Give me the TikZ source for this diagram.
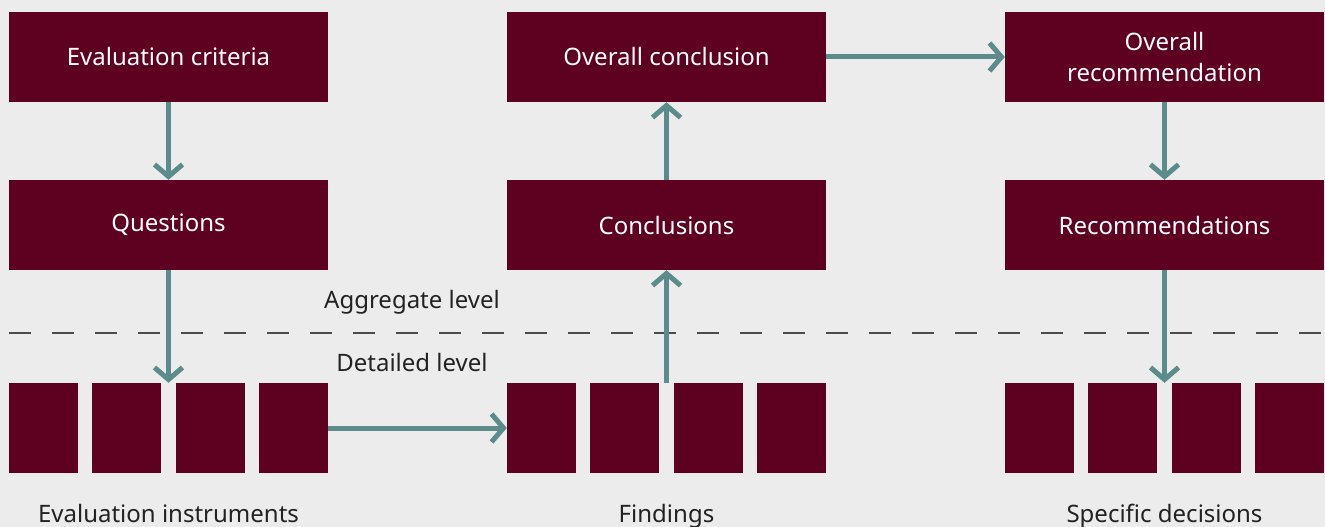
\documentclass[tikz,border=0pt]{standalone}
\usepackage{fontspec}
\setmainfont{Noto Sans}
\usepackage{tikz}
\usepackage{xcolor}
\usetikzlibrary{arrows.meta}
\definecolor{wine}{HTML}{5E0020}
\definecolor{teal-line}{HTML}{5B8C8B}
\definecolor{paper}{HTML}{ECECEC}
\definecolor{ink}{HTML}{222222}
\tikzset{
    dark-box/.style = {fill=wine, text=white, rectangle, inner sep=0pt, minimum width=319pt, minimum height=90pt, align=center, font=\fontsize{24}{31}\selectfont},
    small-box/.style = {fill=wine, rectangle, inner sep=0pt, minimum width=69pt, minimum height=90pt},
    flow-arrow/.style = {draw=teal-line, line width=5pt, -{Straight Barb[length=12pt, width=28pt]}},
    level-text/.style = {text=ink, inner sep=0pt, font=\fontsize{24}{28}\selectfont},
    level-line/.style = {draw=black!70, line width=2pt, dash pattern=on 22pt off 21pt},
}

\begin{document}
\begin{tikzpicture}[x=1pt, y=-1pt]
\fill[paper] (0,0) rectangle (1325,527);
\useasboundingbox (0,0) rectangle (1325,527);

% aggregate level
\node[dark-box] (criteria) at (168.5,57) {Evaluation criteria};
\node[dark-box] (questions) at (168.5,225) {Questions};
\node[dark-box] (overall-concl) at (666.5,57) {Overall conclusion};
\node[dark-box] (conclusions) at (666.5,225) {Conclusions};
\node[dark-box] (overall-rec) at (1164.5,57) {Overall\\recommendation};
\node[dark-box] (recommendations) at (1164.5,225) {Recommendations};

% detailed level
\foreach \i in {1,...,4} {
    \node[small-box] (instr-\i) at ({43.5+(\i-1)*83.33},428) {};
    \node[small-box] (find-\i) at ({541.5+(\i-1)*83.33},428) {};
    \node[small-box] (dec-\i) at ({1039.5+(\i-1)*83.33},428) {};
}

\draw[level-line] (9,333) -- (1325,333);
\node[level-text] (aggregate) at (412,302) {Aggregate level};
\node[level-text] (detailed) at (412,362) {Detailed level};

\node[level-text, anchor=base] (instr-label) at (168.5,522) {Evaluation instruments};
\node[level-text, anchor=base] (find-label) at (666.5,522) {Findings};
\node[level-text, anchor=base] (dec-label) at (1164.5,522) {Specific decisions};

% flows
\draw[flow-arrow] (criteria.south) -- (questions.north);
\draw[flow-arrow] (questions.south) -- (questions |- instr-1.north);
\draw[flow-arrow] (instr-4.east) -- (find-1.west);
\draw[flow-arrow] (conclusions |- find-1.north) -- (conclusions.south);
\draw[flow-arrow] (conclusions.north) -- (overall-concl.south);
\draw[flow-arrow] (overall-concl.east) -- (overall-rec.west);
\draw[flow-arrow] (overall-rec.south) -- (recommendations.north);
\draw[flow-arrow] (recommendations.south) -- (recommendations |- dec-1.north);
\end{tikzpicture}
\end{document}
